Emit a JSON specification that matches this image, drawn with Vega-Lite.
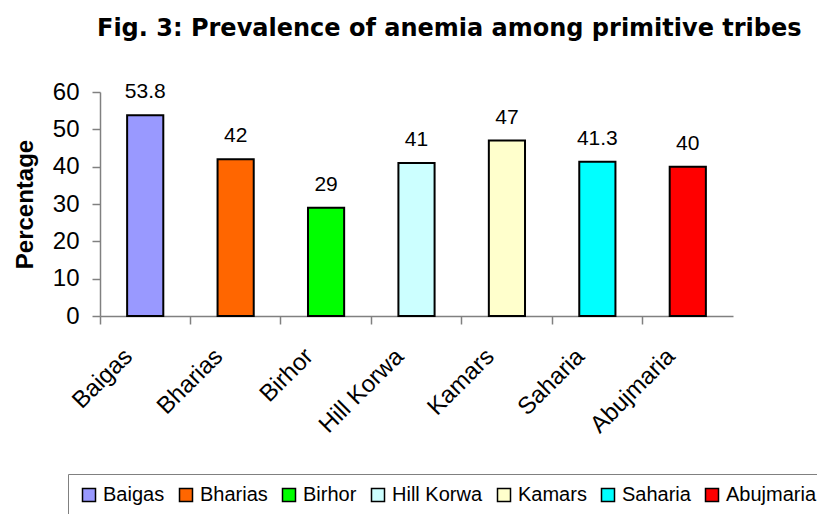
{
  "$schema": "https://vega.github.io/schema/vega-lite/v6.json",
  "width": 633,
  "height": 224,
  "autosize": "none",
  "padding": {"left": 100, "top": 92, "right": 84, "bottom": 198},
  "background": "white",
  "data": {
    "values": [
      {"tribe": "Baigas", "pct": 53.8, "label": "53.8"},
      {"tribe": "Bharias", "pct": 42, "label": "42"},
      {"tribe": "Birhor", "pct": 29, "label": "29"},
      {"tribe": "Hill Korwa", "pct": 41, "label": "41"},
      {"tribe": "Kamars", "pct": 47, "label": "47"},
      {"tribe": "Saharia", "pct": 41.3, "label": "41.3"},
      {"tribe": "Abujmaria", "pct": 40, "label": "40"}
    ]
  },
  "title": {
    "text": "Fig. 3: Prevalence of anemia among primitive tribes",
    "font": "DejaVu Sans",
    "fontSize": 24,
    "fontWeight": "bold",
    "color": "black",
    "anchor": "start",
    "frame": "group",
    "baseline": "bottom",
    "dx": -3,
    "offset": 15
  },
  "config": {
    "view": {"stroke": null},
    "font": "Liberation Sans",
    "axis": {"labelFont": "Liberation Sans", "titleFont": "Liberation Sans", "labelColor": "black", "titleColor": "black", "domainColor": "#808080", "tickColor": "#808080", "grid": false}
  },
  "encoding": {
    "x": {
      "field": "tribe",
      "type": "nominal",
      "sort": null,
      "scale": {"paddingInner": 0.6, "paddingOuter": 0.3}
    },
    "y": {
      "field": "pct",
      "type": "quantitative",
      "scale": {"domain": [0, 60], "nice": false},
      "axis": {"title": "Percentage", "titleFontSize": 24, "titleFontWeight": "bold", "titlePadding": 15, "labelFontSize": 24, "values": [0,10,20,30,40,50,60], "labelOverlap": false, "tickSize": 8, "tickWidth": 1.5, "domainWidth": 1.5, "labelPadding": 13}
    }
  },
  "layer": [
    {
      "mark": {"type": "bar", "stroke": "black", "strokeWidth": 2},
      "encoding": {
        "x": {
          "field": "tribe",
          "type": "nominal",
          "sort": null,
          "axis": {"orient": "bottom", "title": null, "labels": false, "ticks": true, "tickSize": 8, "tickWidth": 1.5, "bandPosition": -0.75, "domainWidth": 1.5}
        },
        "color": {
          "field": "tribe",
          "type": "nominal",
          "sort": ["Baigas", "Bharias", "Birhor", "Hill Korwa", "Kamars", "Saharia", "Abujmaria"],
          "scale": {
            "domain": ["Baigas", "Bharias", "Birhor", "Hill Korwa", "Kamars", "Saharia", "Abujmaria"],
            "range": ["#9999ff", "#ff6600", "#00ff00", "#ccffff", "#ffffcc", "#00ffff", "#ff0000"]
          },
          "legend": {
            "title": null,
            "orient": "none",
            "direction": "horizontal",
            "columns": 7,
            "legendX": -32,
            "legendY": 382,
            "strokeColor": "#808080",
            "padding": 11,
            "symbolType": "square",
            "symbolSize": 169,
            "symbolStrokeColor": "black",
            "symbolStrokeWidth": 1.5,
            "labelFont": "Liberation Sans",
            "labelFontSize": 20,
            "labelColor": "black",
            "labelOffset": 4,
            "columnPadding": 11
          }
        }
      }
    },
    {
      "mark": {"type": "text", "baseline": "alphabetic", "dy": -17, "fontSize": 21, "color": "black", "font": "Liberation Sans"},
      "encoding": {
        "x": {
          "field": "tribe",
          "type": "nominal",
          "sort": null,
          "axis": {"orient": "bottom", "title": null, "labelAngle": -45, "labelFontSize": 24, "ticks": false, "domain": false, "labelPadding": 28, "labelOffset": -25}
        },
        "text": {"field": "label"}
      }
    }
  ],
  "resolve": {"axis": {"x": "independent"}}
}
